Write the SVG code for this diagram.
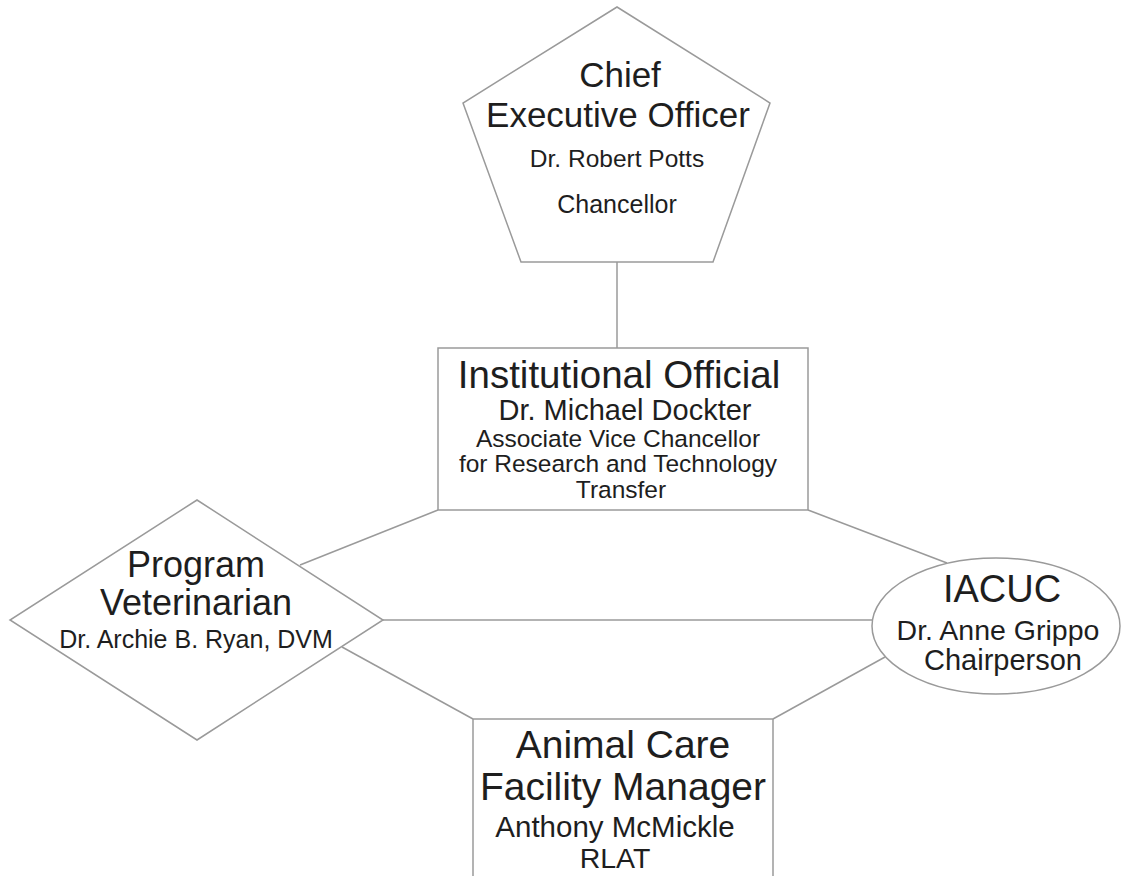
<svg xmlns="http://www.w3.org/2000/svg" width="1126" height="876" viewBox="0 0 1126 876">
<style>
.shape{fill:#fff;stroke:#9a9a9a;stroke-width:1.5}
.conn{stroke:#9a9a9a;stroke-width:1.5;fill:none}
text{font-family:"Liberation Sans",Arial,sans-serif;fill:#1e1e1e;text-anchor:middle}
</style>
<rect width="1126" height="876" fill="#fff"/>
<g id="connectors">
<line class="conn" x1="617" y1="262" x2="617" y2="348"/>
<line class="conn" x1="438" y1="510" x2="300" y2="565"/>
<line class="conn" x1="808" y1="510" x2="947" y2="563"/>
<line class="conn" x1="383" y1="620" x2="872" y2="620"/>
<line class="conn" x1="342" y1="647" x2="473" y2="719"/>
<line class="conn" x1="885" y1="657" x2="773" y2="719"/>
</g>
<g id="ceo">
<polygon class="shape" points="617,7 770,103 713,262 521,262 463,103"/>
<text x="620" y="87" font-size="35">Chief</text>
<text x="618" y="127" font-size="35">Executive Officer</text>
<text x="617" y="167" font-size="24.5">Dr. Robert Potts</text>
<text x="617" y="213" font-size="25">Chancellor</text>
</g>
<g id="institutional-official">
<rect class="shape" x="438" y="348" width="370" height="162"/>
<text x="619" y="388" font-size="38.5">Institutional Official</text>
<text x="625" y="420" font-size="29">Dr. Michael Dockter</text>
<text x="618" y="447" font-size="24.5">Associate Vice Chancellor</text>
<text x="618" y="472" font-size="24.5">for Research and Technology</text>
<text x="621" y="498" font-size="24.5">Transfer</text>
</g>
<g id="program-veterinarian">
<polygon class="shape" points="197,500 383,620 197,740 10,620"/>
<text x="196" y="577" font-size="36">Program</text>
<text x="196" y="615" font-size="36">Veterinarian</text>
<text x="196" y="648" font-size="25">Dr. Archie B. Ryan, DVM</text>
</g>
<g id="iacuc">
<ellipse class="shape" cx="996" cy="626" rx="124" ry="68"/>
<text x="1002" y="602" font-size="38">IACUC</text>
<text x="998" y="640" font-size="28.5">Dr. Anne Grippo</text>
<text x="1003" y="670" font-size="29">Chairperson</text>
</g>
<g id="animal-care">
<rect class="shape" x="473" y="719" width="300" height="160"/>
<text x="623" y="758" font-size="39">Animal Care</text>
<text x="623" y="800" font-size="39">Facility Manager</text>
<text x="615" y="837" font-size="29.5">Anthony McMickle</text>
<text x="615" y="868" font-size="28.5">RLAT</text>
</g>
</svg>
